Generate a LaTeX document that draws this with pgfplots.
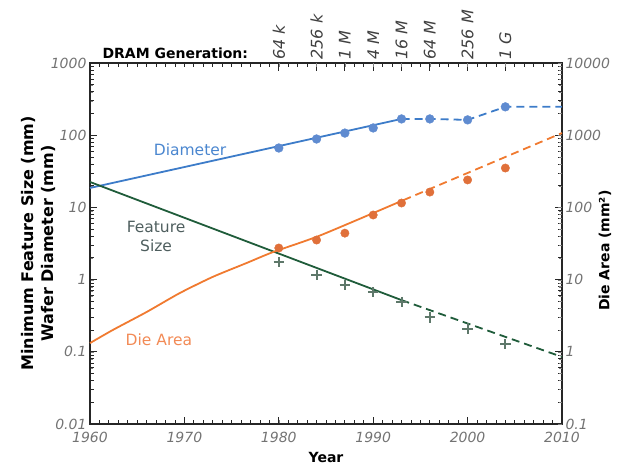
\documentclass[border=0pt]{standalone}
\usepackage{pgfplots}
\pgfplotsset{compat=1.18}
\usepackage{fontspec}
\setmainfont{DejaVu Sans}

\definecolor{diamline}{HTML}{3D7CC9}
\definecolor{diammark}{HTML}{5F8BD0}
\definecolor{featline}{HTML}{1F5C3A}
\definecolor{featmark}{HTML}{5E786A}
\definecolor{arealine}{HTML}{F07A30}
\definecolor{areamark}{HTML}{E0703A}
\definecolor{diamtext}{HTML}{4A86CF}
\definecolor{feattext}{HTML}{4E5E5E}
\definecolor{areatext}{HTML}{F28A55}

\begin{document}
\begin{tikzpicture}
\path[use as bounding box] (-90pt,-42pt) rectangle (546pt,424pt);

% left axis (box): wafer diameter and feature size
\begin{axis}[
  at={(0,0)}, anchor=south west,
  scale only axis, width=472pt, height=361pt,
  xmin=1960, xmax=2010,
  ymode=log, ymin=0.01, ymax=1000,
  axis line style={line width=1.1pt, black!85},
  ticklabel style={font=\fontsize{14}{16}\selectfont\itshape, text=black!55},
  xticklabel style={yshift=-5pt},
  clip=false,
  xtick={1960,1970,1980,1990,2000,2010},
  xticklabels={1960,1970,1980,1990,2000,2010},
  xticklabel pos=left,
  ytick={0.01,0.1,1,10,100,1000},
  yticklabels={0.01,0.1,1,10,100,1000},
  yticklabel pos=left,
]
% tick marks, drawn inward on all four sides
\pgfplotsinvokeforeach{1961,1962,...,2009}{
  \draw[black!85, line width=0.8pt] (axis cs:#1,0.01) -- ++(0pt,4pt);
  \draw[black!85, line width=0.8pt] (axis cs:#1,1000) -- ++(0pt,-4pt);
}
\pgfplotsinvokeforeach{1970,1980,1990,2000}{
  \draw[black!85, line width=0.8pt] (axis cs:#1,0.01) -- ++(0pt,7pt);
}
\pgfplotsinvokeforeach{0.02,0.03,0.04,0.05,0.06,0.07,0.08,0.09,
    0.2,0.3,0.4,0.5,0.6,0.7,0.8,0.9,2,3,4,5,6,7,8,9,
    20,30,40,50,60,70,80,90,200,300,400,500,600,700,800,900}{
  \draw[black!85, line width=0.8pt] (axis cs:1960,#1) -- ++(4pt,0pt);
  \draw[black!85, line width=0.8pt] (axis cs:2010,#1) -- ++(-4pt,0pt);
}
\pgfplotsinvokeforeach{0.1,1,10,100}{
  \draw[black!85, line width=0.8pt] (axis cs:1960,#1) -- ++(7pt,0pt);
  \draw[black!85, line width=0.8pt] (axis cs:2010,#1) -- ++(-7pt,0pt);
}
\pgfplotsinvokeforeach{1980,1984,1987,1990,1993,1996,2000,2004}{
  \draw[black!85, line width=0.9pt] (axis cs:#1,1000) -- ++(0pt,-8pt);
}
% diameter
\addplot[diamline, line width=1.8pt] coordinates {(1960,18.6) (1993,168)};
\addplot[diamline, line width=1.8pt, dash pattern=on 8pt off 5pt] coordinates {
  (1993,168) (1996,168) (2000,163) (2004,247) (2010,247)};
\addplot[only marks, mark=*, mark size=4.4pt, color=diammark] coordinates {
  (1980,66.5) (1984,88.6) (1987,107) (1990,126) (1993,168) (1996,168) (2000,163) (2004,247)};
% feature size
\addplot[featline, line width=1.8pt] coordinates {(1960,22.5) (1993,0.52)};
\addplot[featline, line width=1.8pt, dash pattern=on 8pt off 5pt] coordinates {
  (1993,0.52) (2010,0.085)};
\addplot[only marks, mark=+, mark size=5.2pt, line width=2pt, color=featmark] coordinates {
  (1980,1.75) (1984,1.16) (1987,0.84) (1990,0.67) (1993,0.49) (1996,0.30) (2000,0.21) (2004,0.128)};

\node[font=\fontsize{15.5}{18}\selectfont, text=diamtext] at (axis cs:1970.6,62) {Diameter};
\node[font=\fontsize{15.5}{19}\selectfont, text=feattext, align=center] at (axis cs:1967.0,3.9) {Feature\\Size};
\node[font=\fontsize{15.5}{18}\selectfont, text=areatext] at (axis cs:1967.3,0.146) {Die Area};
\node[font=\fontsize{14}{16}\selectfont\bfseries, anchor=base west] at ([xshift=9pt, yshift=5pt]rel axis cs:0,1) {DRAM Generation:};
\node[font=\fontsize{14}{16}\selectfont\bfseries] at ([yshift=-33pt]rel axis cs:0.5,0) {Year};
\node[font=\fontsize{16}{20}\selectfont\bfseries, rotate=90, align=center] at ([xshift=-52pt]rel axis cs:0,0.5) {Minimum Feature Size (mm)\\Wafer Diameter (mm)};
\end{axis}

% right axis: die area; top axis: DRAM generations
\begin{axis}[
  at={(0,0)}, anchor=south west,
  scale only axis, width=472pt, height=361pt,
  xmin=1960, xmax=2010,
  ymode=log, ymin=0.1, ymax=10000,
  axis line style={draw=none},
  ticklabel style={font=\fontsize{14}{16}\selectfont\itshape, text=black!55},
  clip=false,
  xtick={1980,1984,1987,1990,1993,1996,2000,2004},
  xticklabels={64 k,256 k,1 M,4 M,16 M,64 M,256 M,1 G},
  xtick pos=right, xticklabel pos=right,
  xticklabel style={rotate=90, anchor=west, text=black!75, font=\fontsize{16}{18}\selectfont\itshape},
  ytick={0.1,1,10,100,1000,10000},
  yticklabels={0.1,1,10,100,1000,10000},
  ytick pos=right, yticklabel pos=right,
]
\addplot[arealine, line width=1.8pt, smooth, tension=0.4] coordinates {
  (1960,1.32) (1962.4,2.0) (1966,3.56) (1969.5,6.5) (1973,10.9) (1976.6,17)
  (1979.4,24.1) (1984.4,41) (1993.2,126)};
\addplot[arealine, line width=1.8pt, dash pattern=on 8pt off 5pt] coordinates {
  (1993.2,126) (2010,1072)};
\addplot[only marks, mark=*, mark size=4.2pt, color=areamark] coordinates {
  (1980,27.4) (1984,35.3) (1987,44) (1990,78.5) (1993,115) (1996,163) (2000,240) (2004,351)};
\node[font=\fontsize{14}{16}\selectfont\bfseries, rotate=90] at ([xshift=43pt]rel axis cs:1,0.48) {Die Area (mm²)};
\end{axis}
\end{tikzpicture}
\end{document}
